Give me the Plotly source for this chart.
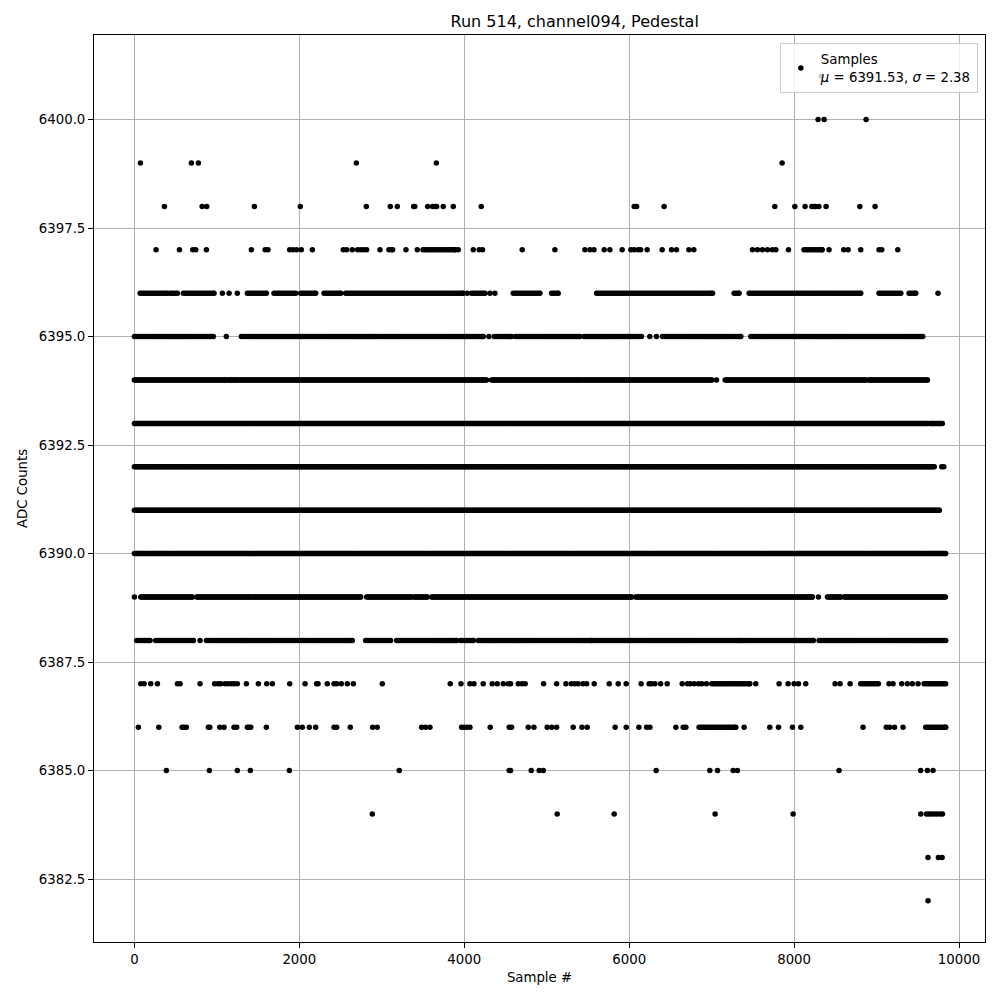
import numpy as np
import plotly.graph_objects as go

# ---- data (sample index positions per ADC level) ----
# isolated points (sample #) per ADC level
pts_6401 = [8330]
pts_6400 = [8291, 8364, 8873]
pts_6399 = [73, 691, 776, 2691, 3661, 7855]
pts_6398 = [364, 821, 877, 1455, 2012, 2812, 3103, 3188, 3386, 3400, 3556, 3617, 3650,
            3665, 3745, 3867, 4206, 6061, 6090, 6424, 7766, 8009, 8133, 8215, 8240, 8260,
            8300, 8388, 8797, 8982]
pts_6397 = [263, 546, 708, 744, 873, 1418, 1585, 1620, 1883, 1924, 1968, 2024, 2158, 2533,
            2574, 2642, 2707, 2743, 2780, 2816, 2978, 3087, 3120, 3132, 3293, 3430, 3927,
            4109, 4182, 4222, 4703, 5099, 5463, 5524, 5573, 5697, 5766, 5915, 6021, 6061,
            6110, 6139, 6218, 6400, 6514, 6574, 6724, 6784, 7495, 7556, 7616, 7677, 7737,
            7778, 7932, 8424, 8602, 8655, 8808, 9030, 9063, 9257]
pts_6396 = [1067, 1148, 1248, 4036, 4312, 4372, 9745]
pts_6395 = [957, 1115, 4299, 6250, 6331]
pts_6394 = [7059]
pts_6393 = []
pts_6392 = [9790, 9815]
pts_6391 = []
pts_6390 = []
pts_6389 = [0, 8295]
pts_6388 = [796]
pts_6387 = [77, 118, 198, 279, 521, 554, 796, 973, 1014, 1046, 1099, 1135, 1175, 1208,
            1248, 1358, 1503, 1605, 1673, 1883, 2069, 2210, 2227, 2339, 2421, 2453, 2509,
            2582, 2655, 3006, 3830, 3960, 4069, 4118, 4230, 4339, 4400, 4473, 4533, 4562,
            4655, 4700, 4739, 4962, 5120, 5233, 5300, 5340, 5380, 5440, 5484, 5576, 5758,
            5867, 5964, 6145, 6242, 6270, 6312, 6381, 6461, 6643, 6708, 6740, 6788, 6841,
            6880, 6937, 7535, 7818, 7927, 8000, 8053, 8141, 8497, 8558, 8679, 9151, 9200,
            9305, 9373, 9434, 9503]
pts_6386 = [48, 296, 578, 600, 630, 897, 914, 1035, 1087, 1208, 1241, 1370, 1390, 1411,
            1600, 1976, 2036, 2121, 2198, 2421, 2453, 2618, 2889, 2945, 3483, 3530, 3584,
            3968, 4000, 4035, 4069, 4315, 4545, 4574, 4776, 4845, 5006, 5060, 5120, 5321,
            5427, 5491, 5830, 5964, 6118, 6211, 6251, 6566, 6655, 6687, 7394, 7705, 7811,
            7980, 8081, 8836, 9118, 9160, 9218, 9321]
pts_6385 = [388, 909, 1248, 1406, 1879, 3212, 4545, 4562, 4812, 4909, 4958, 6327, 6978,
            7071, 7261, 7313, 8545, 9535, 9616, 9685]
pts_6384 = [2885, 5127, 5818, 7042, 7988, 9536, 9605, 9635, 9665, 9700, 9735, 9770, 9800]
pts_6383 = [9624, 9750, 9795]
pts_6382 = [9624]

# stretches (first, last sample #) where a level is continuously occupied
runs_6397 = [(3500, 3890), (8120, 8340)]
runs_6396 = [(70, 400), (433, 521), (594, 966), (1370, 1600), (1693, 1956), (2017, 2198),
             (2299, 2501), (2562, 3988), (4089, 4251), (4594, 4918), (5059, 5139),
             (5605, 7011), (7273, 7333), (7455, 8808), (9030, 9294), (9394, 9475)]
runs_6395 = [(0, 925), (1297, 2420), (2448, 2925), (2953, 4230), (4364, 4574),
             (4622, 5402), (5454, 6149), (6404, 7354), (7475, 9560)]
runs_6394 = [(0, 1107), (1135, 1248), (1276, 4271), (4331, 5422), (5442, 7002),
             (7164, 8869), (8901, 9616)]
runs_6393 = [(0, 9616), (9644, 9798)]
runs_6392 = [(0, 9700)]
runs_6391 = [(0, 9760)]
runs_6390 = [(0, 9838)]
runs_6389 = [(77, 703), (755, 1390), (1410, 2743), (2816, 3362), (3390, 3551),
             (3604, 6028), (6077, 8222), (8404, 8566), (8606, 9835)]
runs_6388 = [(28, 190), (258, 715), (873, 2642), (2804, 3107), (3180, 3907),
             (3955, 4109), (4170, 5543), (5571, 7333), (7354, 8234), (8303, 9838)]
runs_6387 = [(7002, 7463), (8808, 9022), (9576, 9838)]
runs_6386 = [(6848, 7293), (9596, 9838)]

levels = list(range(6382, 6402))
title_text = "Run 514, channel094, Pedestal"
legend_text = "Samples<br><i>μ</i> = 6391.53, <i>σ</i> = 2.38"
x_ticks = [0, 2000, 4000, 6000, 8000, 10000]
y_ticks = [6382.5, 6385.0, 6387.5, 6390.0, 6392.5, 6395.0, 6397.5, 6400.0]

# ---- build point list ----
g = globals()
xs, ys = [], []
for lv in levels:
    p = g.get(f"pts_{lv}", [])
    xs.extend(p)
    ys.extend([lv] * len(p))
    for (a, b) in g.get(f"runs_{lv}", []):
        step = 14 if 6389 <= lv <= 6394 else 24
        seg = list(np.arange(a, b + 1, step))
        if seg[-1] != b:
            seg.append(b)
        xs.extend(seg)
        ys.extend([lv] * len(seg))

fig = go.Figure()
fig.add_trace(go.Scatter(
    x=xs, y=ys, mode="markers",
    marker=dict(color="black", size=5.5, line=dict(width=0)),
    name=legend_text, showlegend=True,
))

font = "DejaVu Sans, Verdana, sans-serif"
W, H = 992, 992
fig.update_layout(
    width=W, height=H,
    margin=dict(l=86, r=15, t=27, b=58),
    paper_bgcolor="white", plot_bgcolor="white",
    font=dict(family=font, size=13.3, color="black"),
    title=dict(text=title_text, x=0.5395, xref="paper", xanchor="center",
               y=1 - 13 / H, yref="container", yanchor="middle",
               font=dict(family=font, size=16, color="black")),
    legend=dict(x=0.992, y=0.991, xanchor="right", yanchor="top",
                bgcolor="rgba(255,255,255,0.8)", bordercolor="#cccccc", borderwidth=1,
                font=dict(family=font, size=13.3, color="black"),
                itemsizing="trace", tracegroupgap=0),
    showlegend=True,
)
fig.update_xaxes(
    range=[-490, 10315], tickvals=x_ticks, ticktext=[str(v) for v in x_ticks],
    showgrid=True, gridcolor="#b0b0b0", gridwidth=1,
    showline=True, linecolor="black", linewidth=1, mirror=True,
    ticks="outside", ticklen=5, tickcolor="black", zeroline=False,
    title=dict(text="Sample #", standoff=6, font=dict(family=font, size=13.3)),
)
fig.update_yaxes(
    range=[6381.05, 6401.95], tickvals=y_ticks, ticktext=[f"{v:.1f}" for v in y_ticks],
    showgrid=True, gridcolor="#b0b0b0", gridwidth=1,
    showline=True, linecolor="black", linewidth=1, mirror=True,
    ticks="outside", ticklen=5, tickcolor="black", zeroline=False,
    title=dict(text="ADC Counts", standoff=8, font=dict(family=font, size=13.3)),
)
fig.write_html("out.html")
